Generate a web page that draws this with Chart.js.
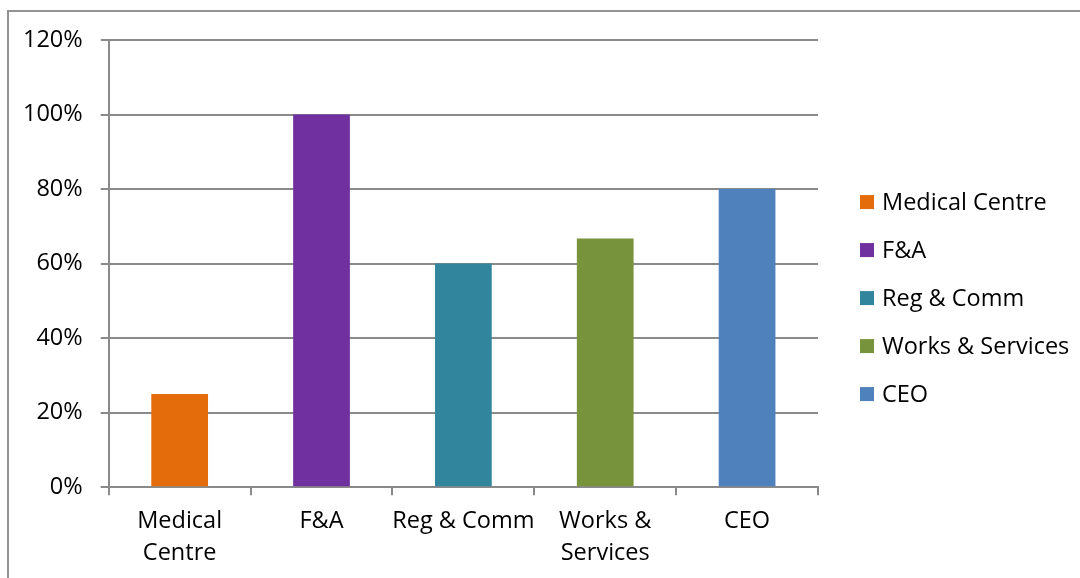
<!DOCTYPE html>
<html>
<head>
<meta charset="utf-8">
<script src="https://cdn.jsdelivr.net/npm/chart.js@4"></script>
<style>
  html, body { margin: 0; padding: 0; background: #fff; overflow: hidden; }
  #frame {
    position: absolute; left: 7px; top: 10px; width: 1100px; height: 600px;
    border-left: 2px solid #939393; border-top: 2px solid #939393;
    box-sizing: border-box;
  }
  #wrap { position: absolute; left: 0; top: 0; width: 1080px; height: 589px; }
</style>
</head>
<body>
<div id="frame"></div>
<div id="wrap"><canvas id="deptChart"></canvas></div>
<script>
// departments and their completion rates (%)
const categories = ["Medical Centre", "F&A", "Reg & Comm", "Works & Services", "CEO"];
const axisLabels = [["Medical", "Centre"], "F&A", "Reg & Comm", ["Works &", "Services"], "CEO"];
const rates = [25, 100, 60, 66.7, 80];
const barColors = ["#E46C0A", "#7030A0", "#31859C", "#77933C", "#4F81BD"];
const yTicks = [0, 20, 40, 60, 80, 100, 120];

const FONT = "'Open Sans', sans-serif";
const FONT_SIZE = 23.5;
const GRID = "#8a8a8a";

// legend drawn to the right of the plot, one square + name per department
const sideLegend = {
  id: "sideLegend",
  afterDraw(chart) {
    const { ctx, chartArea } = chart;
    const colors = chart.data.datasets[0].backgroundColor;
    const step = 48;
    const boxX = chartArea.right + 42;
    const midY = (chartArea.top + chartArea.bottom) / 2 + 34.5;
    const y0 = midY - step * (categories.length - 1) / 2;
    ctx.save();
    ctx.font = `${FONT_SIZE}px ${FONT}`;
    ctx.textBaseline = "middle";
    categories.forEach((name, i) => {
      const y = y0 + i * step;
      ctx.fillStyle = colors[i];
      ctx.fillRect(boxX, y - 7, 14, 14);
      ctx.fillStyle = "#000";
      ctx.fillText(name, boxX + 22, y + 1);
    });
    ctx.restore();
  }
};

new Chart(document.getElementById("deptChart"), {
  type: "bar",
  data: {
    labels: axisLabels,
    datasets: [{
      data: rates,
      backgroundColor: barColors,
      borderWidth: 0,
      categoryPercentage: 1,
      barPercentage: 0.4
    }]
  },
  plugins: [sideLegend],
  options: {
    responsive: true,
    maintainAspectRatio: false,
    animation: false,
    layout: { padding: { left: 5, top: 40, right: 262, bottom: 9 } },
    plugins: {
      tooltip: { enabled: false },
      legend: { display: false }
    },
    scales: {
      x: {
        offset: true,
        grid: {
          offset: true,
          drawOnChartArea: false,
          drawTicks: true,
          tickLength: 8,
          color: GRID,
          lineWidth: 2
        },
        border: { display: true, color: GRID, width: 2 },
        ticks: {
          padding: 10,
          color: "#000",
          maxRotation: 0,
          autoSkip: false,
          font: { family: FONT, size: FONT_SIZE, lineHeight: 1.38 }
        }
      },
      y: {
        min: 0,
        max: 120,
        afterBuildTicks: axis => { axis.ticks = yTicks.map(v => ({ value: v })); },
        grid: { color: GRID, lineWidth: 2, tickLength: 8 },
        border: { display: true, color: GRID, width: 2 },
        ticks: {
          padding: 18,
          color: "#000",
          font: { family: FONT, size: FONT_SIZE },
          callback: v => v + "%"
        }
      }
    }
  }
});
</script>
</body>
</html>
